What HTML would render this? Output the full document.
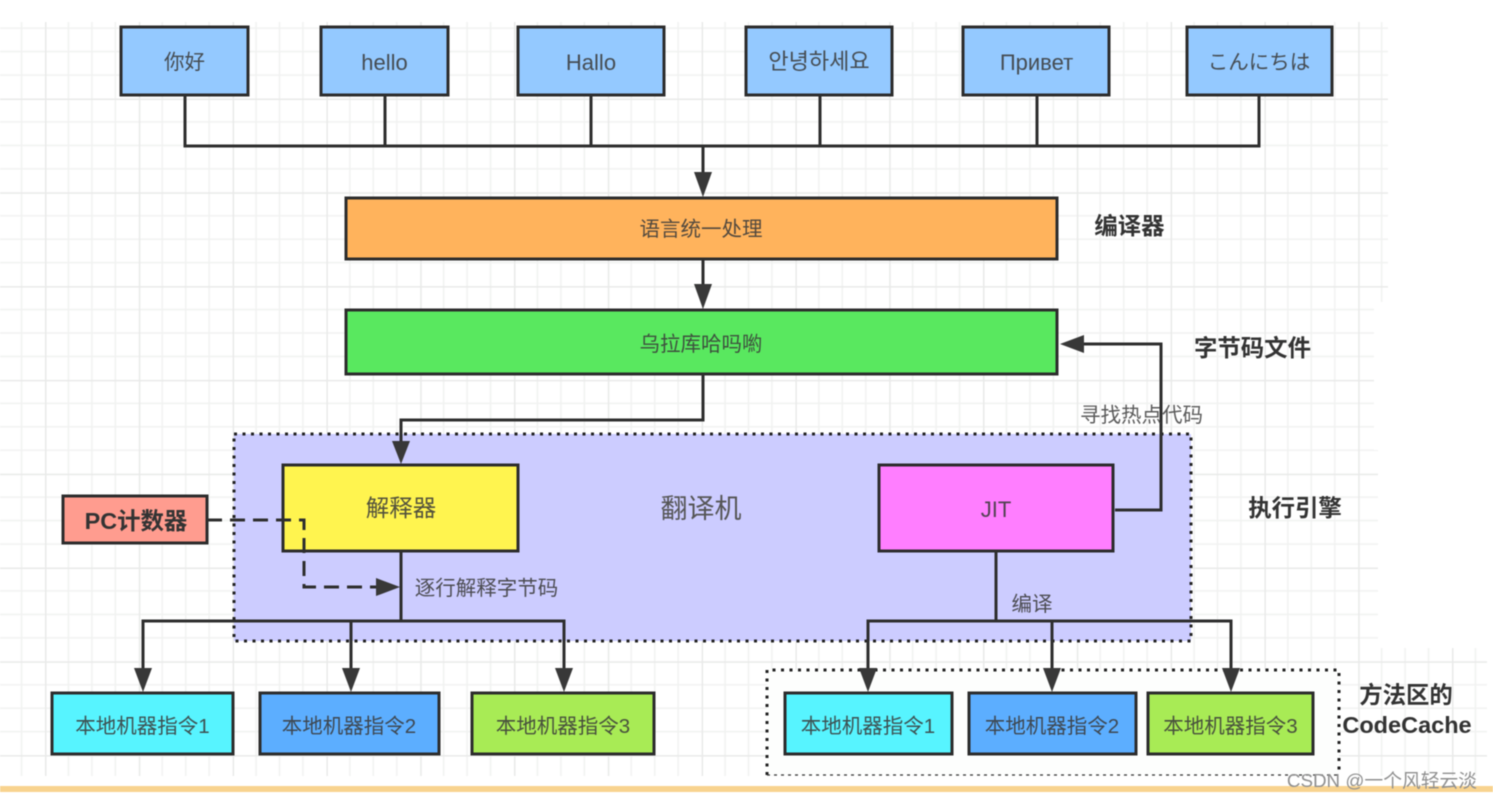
<!DOCTYPE html>
<html><head><meta charset="utf-8"><style>
html,body{margin:0;padding:0;background:#fff;width:1493px;height:800px;overflow:hidden}
svg{display:block;filter:blur(.5px)}
text{font-family:"Liberation Sans","Noto Sans CJK SC",sans-serif;fill:#3a3a3a;text-anchor:middle}
.t{font-size:20.5px;fill-opacity:.88}
.l{font-size:22px;fill-opacity:.88}
.b{font-size:23.4px;font-weight:bold;fill:#333}
.box{stroke:#2c2c2c;stroke-width:3}
.ln{fill:none;stroke:#2e2e2e;stroke-width:3}
.hd{fill:#383838}
.dot{fill:none;stroke:#222;stroke-width:3;stroke-dasharray:3 5.5}
</style></head><body>
<svg width="1493" height="800" viewBox="0 0 1493 800" xmlns="http://www.w3.org/2000/svg">
<defs>
<pattern id="g" patternUnits="userSpaceOnUse" x="45" y="98.5" width="93.8" height="93.8">
<path d="M23.45 0V93.8M46.9 0V93.8M70.35 0V93.8M0 23.45H93.8M0 46.9H93.8M0 70.35H93.8" stroke="#f1f2f1" stroke-width="1.5" fill="none"/>
<path d="M0.5 0V93.8M0 0.5H93.8" stroke="#e9eae9" stroke-width="2" fill="none"/>
</pattern>
</defs>
<rect width="1493" height="800" fill="#fff"/>
<rect x="0" y="22" width="1388" height="280" fill="url(#g)"/>
<rect x="0" y="302" width="1374" height="148" fill="url(#g)"/>
<rect x="0" y="450" width="1378" height="198" fill="url(#g)"/>
<rect x="0" y="648" width="1487" height="128" fill="url(#g)"/>
<rect x="0" y="786" width="1493" height="6" fill="#f8d38f"/>

<rect x="234" y="434" width="957" height="207" fill="#ccccff"/>
<rect x="234" y="434" width="957" height="207" class="dot"/>
<rect x="767" y="670" width="572" height="105" fill="#fdfefd"/>
<path d="M767 775V670H1339V775" class="dot"/>
<path d="M767 775H1339" fill="none" stroke="#333" stroke-width="1.2" stroke-dasharray="3 4"/>

<!-- top boxes -->
<g fill="#94c9ff" class="box">
<rect x="121" y="27" width="127" height="68"/>
<rect x="321" y="27" width="127" height="68"/>
<rect x="518" y="27" width="146" height="68"/>
<rect x="746" y="27" width="146" height="68"/>
<rect x="963" y="27" width="146" height="68"/>
<rect x="1187" y="27" width="145" height="68"/>
</g>
<rect x="346" y="198" width="711" height="61" fill="#ffb35c" class="box"/>
<rect x="346" y="310" width="711" height="64" fill="#59e85f" class="box"/>
<rect x="283" y="465" width="235" height="86" fill="#fff44f" class="box"/>
<rect x="879" y="465" width="234" height="86" fill="#ff7eff" class="box"/>
<rect x="63" y="496" width="144" height="47" fill="#ff9c8f" class="box"/>
<rect x="52" y="693" width="181" height="61" fill="#57f4ff" class="box"/>
<rect x="260" y="693" width="179" height="61" fill="#5caeff" class="box"/>
<rect x="472" y="693" width="182" height="61" fill="#a8eb55" class="box"/>
<rect x="785" y="693" width="167" height="61" fill="#57f4ff" class="box"/>
<rect x="969" y="693" width="167" height="61" fill="#5caeff" class="box"/>
<rect x="1148" y="693" width="165" height="61" fill="#a8eb55" class="box"/>

<!-- connectors -->
<path class="ln" d="M185 95V146H1259V95M385 95V146M591 95V146M820 95V146M1037 95V146M703 146V175"/>
<path class="hd" d="M694 172H712L703 197Z"/>
<path class="ln" d="M703 259V287"/>
<path class="hd" d="M694 284H712L703 309Z"/>
<path class="ln" d="M703 374V420H401V444"/>
<path class="hd" d="M392 441H410L401 464Z"/>
<path class="ln" d="M401 551V621M143 671V621H564V671M351 621V671"/>
<path class="hd" d="M134 668H152L143 692ZM342 668H360L351 692ZM555 668H573L564 692Z"/>
<path class="ln" d="M996 551V621M868 671V621H1231V671M1052 621V671"/>
<path class="hd" d="M859 668H877L868 692ZM1043 668H1061L1052 692ZM1222 668H1240L1231 692Z"/>
<path class="ln" d="M1115 510H1161V344H1082" stroke="#3a3a3a"/>
<path class="hd" d="M1084 335V353L1060 344Z"/>
<path class="ln" d="M207 520H304V587H380" stroke-dasharray="15 8"/>
<path class="hd" d="M376 578V596L400 587Z"/>

<!-- text -->
<text class="t" x="184.500" y="69">你好</text>
<text class="l" x="384.500" y="70">hello</text>
<text class="l" x="591" y="70">Hallo</text>
<text class="l" x="819" y="69" style='font-family:"Liberation Sans","Noto Sans CJK KR",sans-serif'>안녕하세요</text>
<text class="l" x="1036.500" y="70">Привет</text>
<text class="t" x="1259" y="69" style='font-family:"Liberation Sans","Noto Sans CJK JP",sans-serif'>こんにちは</text>
<text class="t" x="701" y="236">语言统一处理</text>
<text class="t" x="701" y="351">乌拉库哈吗喲</text>
<text class="t" x="401" y="516" style="font-size:23.5px">解释器</text>
<text class="l" x="996" y="517">JIT</text>
<text x="701" y="518" style="font-size:27px;fill:#555">翻译机</text>
<text class="b" x="136" y="529">PC计数器</text>
<text class="t" x="486.500" y="595">逐行解释字节码</text>
<text class="t" x="1032" y="611">编译</text>
<text class="t" x="1141.500" y="422" style="fill:#444">寻找热点代码</text>
<text class="b" x="1129.500" y="234">编译器</text>
<text class="b" x="1252.500" y="356">字节码文件</text>
<text class="b" x="1295" y="516">执行引擎</text>
<text class="b" x="1406" y="703">方法区的</text>
<text class="b" x="1407" y="733" style="font-size:23.5px">CodeCache</text>
<text class="t" x="142.500" y="733">本地机器指令1</text>
<text class="t" x="349" y="733">本地机器指令2</text>
<text class="t" x="563" y="733">本地机器指令3</text>
<text class="t" x="868" y="733">本地机器指令1</text>
<text class="t" x="1052" y="733">本地机器指令2</text>
<text class="t" x="1230.500" y="733">本地机器指令3</text>
<text x="1382" y="787" style="font-size:18.8px;fill:#8f8f8f">CSDN @一个风轻云淡</text>
</svg>
</body></html>
